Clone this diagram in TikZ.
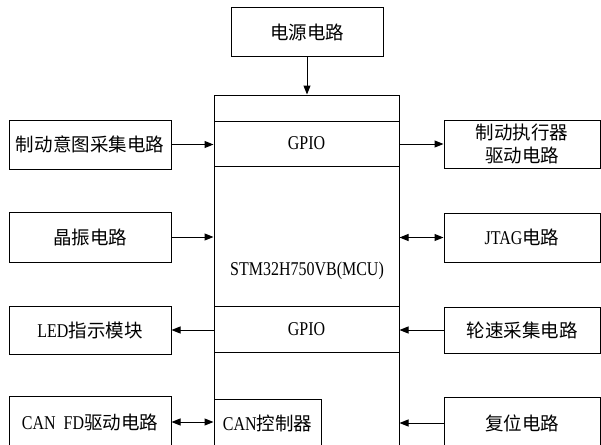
\documentclass[tikz,border=0pt]{standalone}
\usepackage{fontspec}
\setmainfont{Liberation Serif}[FakeStretch=0.82]
\newfontfamily\cjk{Noto Sans CJK SC}
\newcommand\zh[1]{{\cjk\fontsize{18.5}{22.5}\selectfont #1}}
\usetikzlibrary{arrows.meta}
\begin{document}
\begin{tikzpicture}[x=1pt,y=-1pt,
  box/.style={draw, line width=1pt, inner sep=0pt, font=\fontsize{19.5}{22}\selectfont, align=center},
  txt/.style={inner sep=0pt, font=\fontsize{19.5}{22}\selectfont},
  arr/.style={-{Triangle[length=9pt,width=7pt]}, line width=1pt},
  darr/.style={{Triangle[length=9pt,width=7pt]}-{Triangle[length=9pt,width=7pt]}, line width=1pt}]
\useasboundingbox (0,0) rectangle (601,444);
\clip (0,0) rectangle (601,444);
\fill[white] (0,0) rectangle (601,444);
% power
\node[box, minimum width=152pt, minimum height=48pt] (pw) at (307,32) {\zh{电源电路}};
% MCU
\node[box, minimum width=185pt, minimum height=375pt] (mcu) at (306.5,282.5) {};
\node[box, minimum width=185pt, minimum height=45pt] (gpio1) at (306.5,143.5) {GPIO};
\node[box, minimum width=185pt, minimum height=46pt] (gpio2) at (306.5,329) {GPIO};
\node[txt] (mcul) at (307,271) {STM32H750VB(MCU)};
\node[box, minimum width=107pt, minimum height=48pt] (canc) at (267.5,423) {CAN\zh{控制器}};
% left
\node[box, minimum width=162pt, minimum height=49pt] (l1) at (90,144.5) {\zh{制动意图采集电路}};
\node[box, minimum width=162pt, minimum height=50pt] (l2) at (90,237) {\zh{晶振电路}};
\node[box, minimum width=162pt, minimum height=48pt] (l3) at (90,330) {LED\zh{指示模块}};
\node[box, minimum width=162pt, minimum height=52pt] (l4) at (90,422) {CAN\ \ FD\zh{驱动电路}};
% right
\node[box, minimum width=156pt, minimum height=48pt, font=\cjk\fontsize{18.5}{22.5}\selectfont] (r1) at (522,144) {制动执行器\\驱动电路};
\node[box, minimum width=156pt, minimum height=49pt] (r2) at (522,237.5) {JTAG\zh{电路}};
\node[box, minimum width=156pt, minimum height=46pt] (r3) at (522,330) {\zh{轮速采集电路}};
\node[box, minimum width=156pt, minimum height=52pt] (r4) at (522,423) {\zh{复位电路}};
% connectors
\draw[arr] (pw.south) -- (pw.south |- mcu.north);
\draw[arr] (l1.east) -- (l1.east -| mcu.west);
\draw[arr] (l2.east) -- (l2.east -| mcu.west);
\draw[arr] (l3.east -| mcu.west) -- (l3.east);
\draw[darr] (l4.east) -- (canc.west |- l4.east);
\draw[arr] (r1.west -| mcu.east) -- (r1.west);
\draw[darr] (r2.west -| mcu.east) -- (r2.west);
\draw[arr] (r3.west) -- (r3.west -| mcu.east);
\draw[arr] (r4.west) -- (r4.west -| mcu.east);
\end{tikzpicture}
\end{document}
